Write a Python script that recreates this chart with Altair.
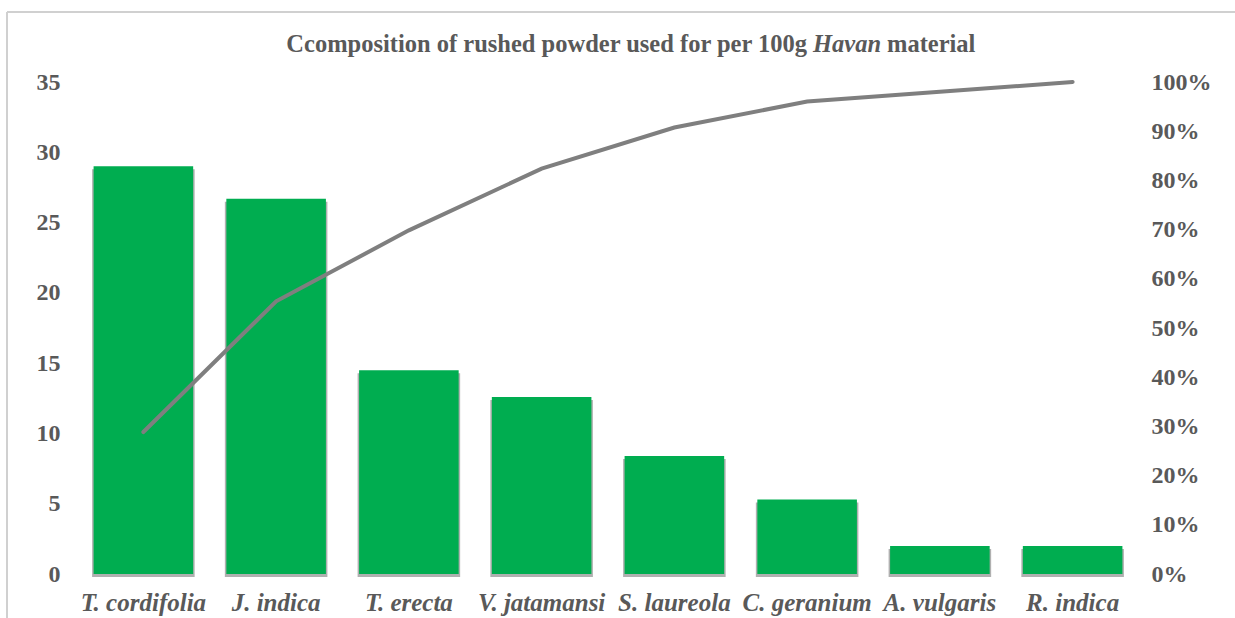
import altair as alt
import pandas as pd

species = ["T. cordifolia", "J. indica", "T. erecta", "V. jatamansi",
           "S. laureola", "C. geranium", "A. vulgaris", "R. indica"]
amounts = [29.0, 26.7, 14.5, 12.6, 8.4, 5.3, 2.0, 2.0]
left_ticks = [0, 5, 10, 15, 20, 25, 30, 35]
right_ticks = [0.0, 0.1, 0.2, 0.3, 0.4, 0.5, 0.6, 0.7, 0.8, 0.9, 1.0]
title_parts = ["Ccomposition of rushed powder used for per 100g", "Havan", "material"]

GRAY = "#595959"
SERIF = "Liberation Serif"
TICK_FS = 24
XLAB_FS = 25
TITLE_FS = 24.5

df = pd.DataFrame({"species": species, "amount": amounts, "order": list(range(len(species)))})

xenc = alt.X(
    "species:N", sort=species, title=None,
    scale=alt.Scale(paddingInner=0.25, paddingOuter=0.125),
    axis=alt.Axis(labelFont=SERIF, labelFontStyle="italic", labelFontWeight="bold",
                  labelFontSize=XLAB_FS, labelColor=GRAY, labelAngle=0, ticks=False,
                  domain=False, grid=False, labelPadding=16),
)

base = alt.Chart(df)

shadow = base.mark_bar(color="#6f6f6f", opacity=0.55,
                       width=alt.RelativeBandSize(1.03), yOffset=3).encode(
    x=xenc,
    y=alt.Y("amount:Q", scale=alt.Scale(domain=[0, 35]), axis=None),
)

bars = base.mark_bar(color="#00ad50", width=alt.RelativeBandSize(1.0)).encode(
    x=xenc,
    y=alt.Y("amount:Q", title=None, scale=alt.Scale(domain=[0, 35]),
            axis=alt.Axis(orient="left", values=left_ticks, labelFont=SERIF,
                          labelFontWeight="bold", labelFontSize=TICK_FS, labelColor=GRAY,
                          ticks=False, domain=False, grid=False, labelPadding=17)),
)

line = base.transform_window(
    cum="sum(amount)", sort=[alt.SortField("order")], frame=[None, 0]
).transform_joinaggregate(total="sum(amount)").transform_calculate(
    cumpct="datum.cum / datum.total"
).mark_line(color="#7f7f7f", strokeWidth=4, strokeCap="round").encode(
    x=xenc,
    y=alt.Y("cumpct:Q", title=None, scale=alt.Scale(domain=[0, 1]),
            axis=alt.Axis(orient="right", values=right_ticks, format=".0%",
                          labelFont=SERIF, labelFontWeight="bold", labelFontSize=TICK_FS,
                          labelColor=GRAY, labelAlign="left", ticks=False,
                          domain=False, grid=False, labelPadding=12)),
    order="order:Q",
)

one = alt.Chart(pd.DataFrame({"k": [0]}))
t1 = alt.Chart(pd.DataFrame({"t": [title_parts[0]]})).mark_text(
    font=SERIF, fontWeight="bold", fontSize=TITLE_FS, color=GRAY, align="right",
    baseline="alphabetic").encode(x=alt.value(730), y=alt.value(-30), text="t:N")
t2 = alt.Chart(pd.DataFrame({"t": [title_parts[1]]})).mark_text(
    font=SERIF, fontWeight="bold", fontStyle="italic", fontSize=TITLE_FS, color=GRAY,
    align="left", baseline="alphabetic").encode(x=alt.value(736), y=alt.value(-30), text="t:N")
t3 = alt.Chart(pd.DataFrame({"t": [title_parts[2]]})).mark_text(
    font=SERIF, fontWeight="bold", fontSize=TITLE_FS, color=GRAY, align="left",
    baseline="alphabetic").encode(x=alt.value(810), y=alt.value(-30), text="t:N")

border_top = one.mark_rule(color="#d0d0d0", strokeWidth=2).encode(
    x=alt.value(-70), x2=alt.value(1170), y=alt.value(-70))
border_left = one.mark_rule(color="#d0d0d0", strokeWidth=2).encode(
    x=alt.value(-70), y=alt.value(-70), y2=alt.value(540))

chart = alt.layer(shadow, bars, line, t1, t2, t3, border_top, border_left).resolve_scale(
    y="independent"
).properties(
    width=1062, height=492,
    autosize=alt.AutoSizeParams(type="none"),
    padding={"left": 77, "top": 82, "right": 96, "bottom": 44},
).configure(
    background="white", font=SERIF
).configure_axis(
    labelFont=SERIF, labelFontWeight="bold", labelColor=GRAY
).configure_view(strokeWidth=0, stroke="transparent")

chart.save("out.html", embed_options={"renderer": "svg", "actions": False})
